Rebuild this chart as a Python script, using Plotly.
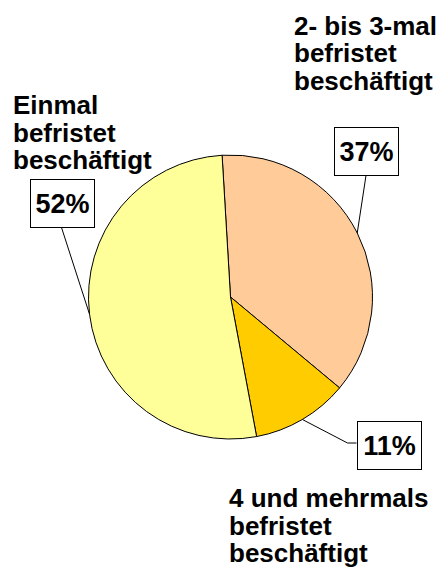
import math
import plotly.graph_objects as go

# ---- data ----
categories = ["2- bis 3-mal befristet beschäftigt",
              "4 und mehrmals befristet beschäftigt",
              "Einmal befristet beschäftigt"]
label_lines = [["2- bis 3-mal", "befristet", "beschäftigt"],
               ["4 und mehrmals", "befristet", "beschäftigt"],
               ["Einmal", "befristet", "beschäftigt"]]
values = [37, 11, 52]
colors = ["#FFCC99", "#FFCC00", "#FFFF99"]

W, H = 441, 575
CX, CY, R = 230.5, 297.0, 142.0
ROT = -3.4
FONT = "Liberation Sans, Arial, sans-serif"
LABEL_SIZE = 26
PCT_SIZE = 27
LINE_STEP = 27.5


def px(x):
    return x / W


def py(y):
    return 1 - y / H


fig = go.Figure(go.Pie(
    labels=categories, values=values, sort=False, direction="clockwise",
    rotation=ROT, marker=dict(colors=colors, line=dict(color="black", width=1)),
    textinfo="none", hoverinfo="label+percent", showlegend=False,
    domain=dict(x=[px(CX - R), px(CX + R)], y=[py(CY + R), py(CY - R)]),
))

# mid-angle edge points of each slice (clockwise from 12 o'clock)
total = sum(values)
edges = []
acc = ROT
for v in values:
    mid = acc + 360 * v / total / 2
    a = math.radians(mid)
    edges.append((CX + R * math.sin(a), CY - R * math.cos(a)))
    acc += 360 * v / total

# box centres (pixels) and first-line baseline positions of labels
boxes = [(366, 151), (389, 445), (62.5, 203)]
label_pos = [(293, 35), (228, 507.5), (12, 114.5)]
box_w, box_h = 63, 47

shapes = []
annotations = []
for i, v in enumerate(values):
    bx, by = boxes[i]
    annotations.append(dict(
        x=px(bx), y=py(by), xref="paper", yref="paper", showarrow=False,
        text=f"<b>{v}%</b>", font=dict(family=FONT, size=PCT_SIZE, color="black"),
        bordercolor="black", borderwidth=1, borderpad=0, bgcolor="white",
        width=box_w, height=box_h, xanchor="center", yanchor="middle"))
    lx, ly = label_pos[i]
    for j, t in enumerate(label_lines[i]):
        base = ly + j * LINE_STEP
        annotations.append(dict(
            x=px(lx), y=py(base - 0.36 * LABEL_SIZE), xref="paper", yref="paper",
            showarrow=False, text=f"<b>{t}</b>",
            font=dict(family=FONT, size=LABEL_SIZE, color="black"),
            align="left", xanchor="left", yanchor="middle", borderpad=0))

ex, ey = edges[0]
shapes.append(dict(type="line", xref="paper", yref="paper",
                   x0=px(boxes[0][0]), y0=py(boxes[0][1] + box_h / 2 + 1),
                   x1=px(ex), y1=py(ey), line=dict(color="black", width=1)))
ex, ey = edges[1]
elbow = (boxes[1][0] - box_w / 2 - 10, boxes[1][1] - 2)
shapes.append(dict(type="path", xref="paper", yref="paper",
                   path=f"M {px(ex)},{py(ey)} L {px(elbow[0])},{py(elbow[1])} L {px(boxes[1][0]-box_w/2-1)},{py(elbow[1])}",
                   line=dict(color="black", width=1)))
ex, ey = edges[2]
shapes.append(dict(type="line", xref="paper", yref="paper",
                   x0=px(boxes[2][0] - 1), y0=py(boxes[2][1] + box_h / 2 + 1),
                   x1=px(ex), y1=py(ey), line=dict(color="black", width=1)))

fig.update_layout(width=W, height=H, margin=dict(l=0, r=0, t=0, b=0),
                  paper_bgcolor="white", plot_bgcolor="white",
                  shapes=shapes, annotations=annotations)
fig.write_html("out.html", config={"displayModeBar": False},
               post_script="document.body.style.margin='0';document.body.style.overflow='hidden';")
